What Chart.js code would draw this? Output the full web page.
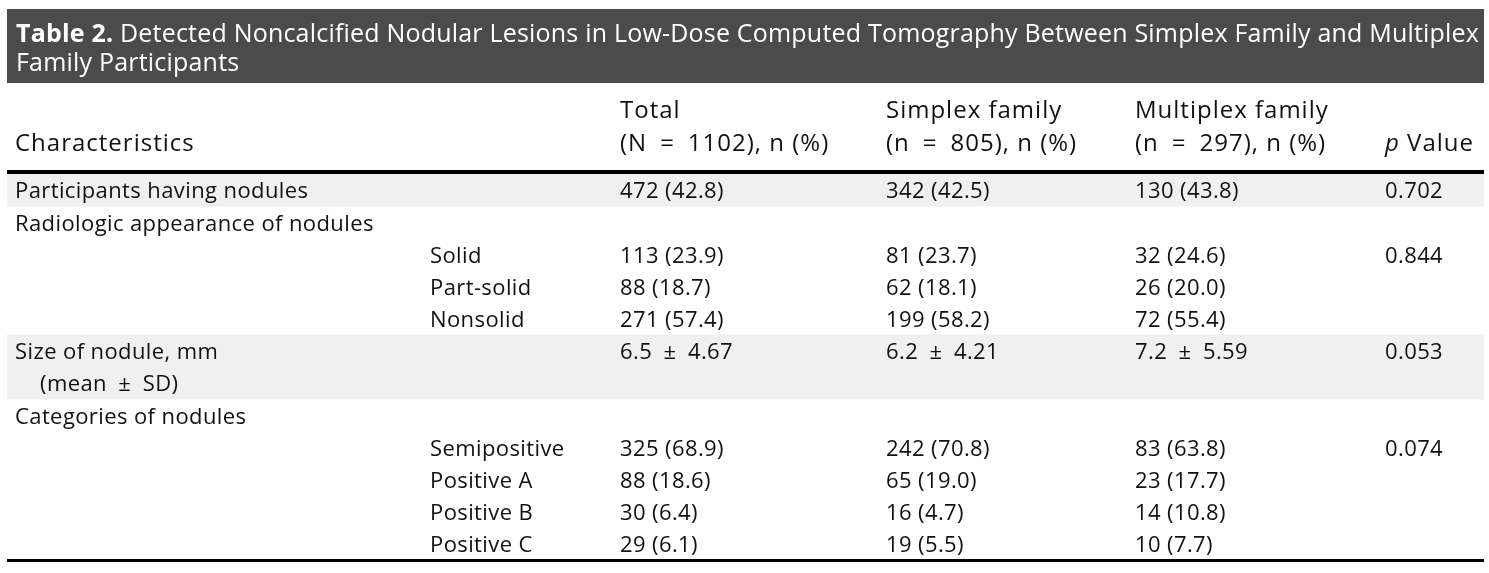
<!DOCTYPE html>
<html>
<head>
<meta charset="utf-8">
<script src="https://cdn.jsdelivr.net/npm/chart.js@4.4.1/dist/chart.umd.min.js"></script>
<style>
    html, body { margin: 0; padding: 0; background: #fff; }
    #wrap { width: 1489px; height: 573px; position: relative; }
</style>
</head>
<body>
<div id="wrap"><canvas id="tableChart"></canvas></div>
<script>
// === DATA ===
const titleBold = 'Table 2.';
const titleRest = ' Detected Noncalcified Nodular Lesions in Low-Dose Computed Tomography Between Simplex Family and Multiplex';
const titleLine2 = 'Family Participants';

const headerTop = ['', '', 'Total', 'Simplex family', 'Multiplex family', ''];
const headerBottom = ['Characteristics', '', '(N\u2002=\u20021102), n (%)', '(n\u2002=\u2002805), n (%)', '(n\u2002=\u2002297), n (%)', 'Value'];

// one entry per text line of the body
const rowLabels = ['Participants having nodules', 'Radiologic appearance of nodules', '', '', '',
    'Size of nodule, mm', '(mean\u2002±\u2002SD)', 'Categories of nodules', '', '', '', ''];
const subLabels = ['', '', 'Solid', 'Part-solid', 'Nonsolid', '', '', '',
    'Semipositive', 'Positive A', 'Positive B', 'Positive C'];

const totalCount     = [472, null, 113, 88, 271, null, null, null, 325, 88, 30, 29];
const totalPct       = [42.8, null, 23.9, 18.7, 57.4, null, null, null, 68.9, 18.6, 6.4, 6.1];
const simplexCount   = [342, null, 81, 62, 199, null, null, null, 242, 65, 16, 19];
const simplexPct     = [42.5, null, 23.7, 18.1, 58.2, null, null, null, 70.8, 19.0, 4.7, 5.5];
const multiplexCount = [130, null, 32, 26, 72, null, null, null, 83, 23, 14, 10];
const multiplexPct   = [43.8, null, 24.6, 20.0, 55.4, null, null, null, 63.8, 17.7, 10.8, 7.7];

// size of nodule (mean ± SD): total, simplex, multiplex
const sizeMean = [6.5, 6.2, 7.2];
const sizeSD   = [4.67, 4.21, 5.59];
const sizeRow  = 5;

const pValues = [0.702, null, 0.844, null, null, 0.053, null, null, 0.074, null, null, null];

// rows with grey background
const shadedRows = [0, 5, 6];

// === LAYOUT ===
const colX = [15, 430, 620, 886, 1135, 1385];
const indentX = 40;
const FONT = '"Open Sans", Lato, sans-serif';
const bodyFont = '22px ' + FONT;
const headFont = '24px ' + FONT;

const fmtCount = (n, p) => n === null ? '' : n + ' (' + p.toFixed(1) + ')';

const cellText = (row, col) => {
    if (col === 0) return rowLabels[row];
    if (col === 1) return subLabels[row];
    if (col === 5) return pValues[row] === null ? '' : pValues[row].toFixed(3);
    if (row === sizeRow) {
        const k = col - 2;
        return sizeMean[k].toFixed(1) + '\u2002±\u2002' + sizeSD[k].toFixed(2);
    }
    if (col === 2) return fmtCount(totalCount[row], totalPct[row]);
    if (col === 3) return fmtCount(simplexCount[row], simplexPct[row]);
    if (col === 4) return fmtCount(multiplexCount[row], multiplexPct[row]);
    return '';
};

const rowIds = rowLabels.map((_, i) => 'r' + i);

// shading bars: full width band for shaded rows
const shadeData = rowIds.map((_, i) => shadedRows.includes(i) ? [0, 1] : null);

const tablePlugin = {
    id: 'tableText',
    beforeDraw(chart) {
        const { ctx, chartArea } = chart;
        ctx.save();
        ctx.fillStyle = '#fff';
        ctx.fillRect(0, 0, chart.width, chart.height);

        // title bar
        ctx.fillStyle = '#4b4b4b';
        ctx.fillRect(chartArea.left, 9, chartArea.right - chartArea.left, 74);
        ctx.fillStyle = '#fff';
        ctx.textBaseline = 'alphabetic';
        ctx.letterSpacing = '0.2px';
        ctx.font = 'bold 25px ' + FONT;
        ctx.fillText(titleBold, 16, 42);
        const w = ctx.measureText(titleBold).width;
        ctx.font = '25px ' + FONT;
        ctx.fillText(titleRest, 16 + w, 42);
        ctx.fillText(titleLine2, 16, 71);
        ctx.restore();
    },
    afterDraw(chart) {
        const { ctx, chartArea } = chart;
        const y = chart.scales.y;
        ctx.save();
        ctx.fillStyle = '#111';
        ctx.textBaseline = 'middle';

        // header
        ctx.letterSpacing = '1px';
        ctx.font = headFont;
        headerTop.forEach((t, c) => ctx.fillText(t, colX[c], 111));
        headerBottom.forEach((t, c) => {
            if (c === 5) {
                ctx.font = 'italic ' + headFont;
                ctx.fillText('p', colX[c], 144);
                const pw = ctx.measureText('p ').width;
                ctx.font = headFont;
                ctx.fillText(t, colX[c] + pw, 144);
            } else {
                ctx.fillText(t, colX[c], 144);
            }
        });

        // rules
        ctx.fillStyle = '#000';
        ctx.fillRect(chartArea.left, chartArea.top - 4, chartArea.right - chartArea.left, 4);
        ctx.fillRect(chartArea.left, chartArea.bottom - 1, chartArea.right - chartArea.left, 3);

        // body cells
        ctx.fillStyle = '#111';
        ctx.letterSpacing = '0.4px';
        ctx.font = bodyFont;
        rowIds.forEach((id, r) => {
            const py = y.getPixelForValue(r) + 2;
            for (let c = 0; c < colX.length; c++) {
                const t = cellText(r, c);
                if (!t) continue;
                const x = (c === 0 && r === sizeRow + 1) ? indentX : colX[c];
                ctx.fillText(t, x, py);
            }
        });
        ctx.restore();
    }
};

new Chart(document.getElementById('tableChart'), {
    type: 'bar',
    data: {
        labels: rowIds,
        datasets: [{
            data: shadeData,
            backgroundColor: '#f0f0f0',
            borderWidth: 0,
            barPercentage: 1,
            categoryPercentage: 1
        }]
    },
    options: {
        indexAxis: 'y',
        responsive: true,
        maintainAspectRatio: false,
        animation: false,
        layout: { padding: { top: 174, bottom: 13, left: 7, right: 5 } },
        scales: {
            x: { type: 'linear', min: 0, max: 1, display: false },
            y: { type: 'category', display: false }
        },
        plugins: {
            legend: { display: false },
            tooltip: { enabled: false },
            title: { display: false }
        }
    },
    plugins: [tablePlugin]
});
</script>
</body>
</html>
